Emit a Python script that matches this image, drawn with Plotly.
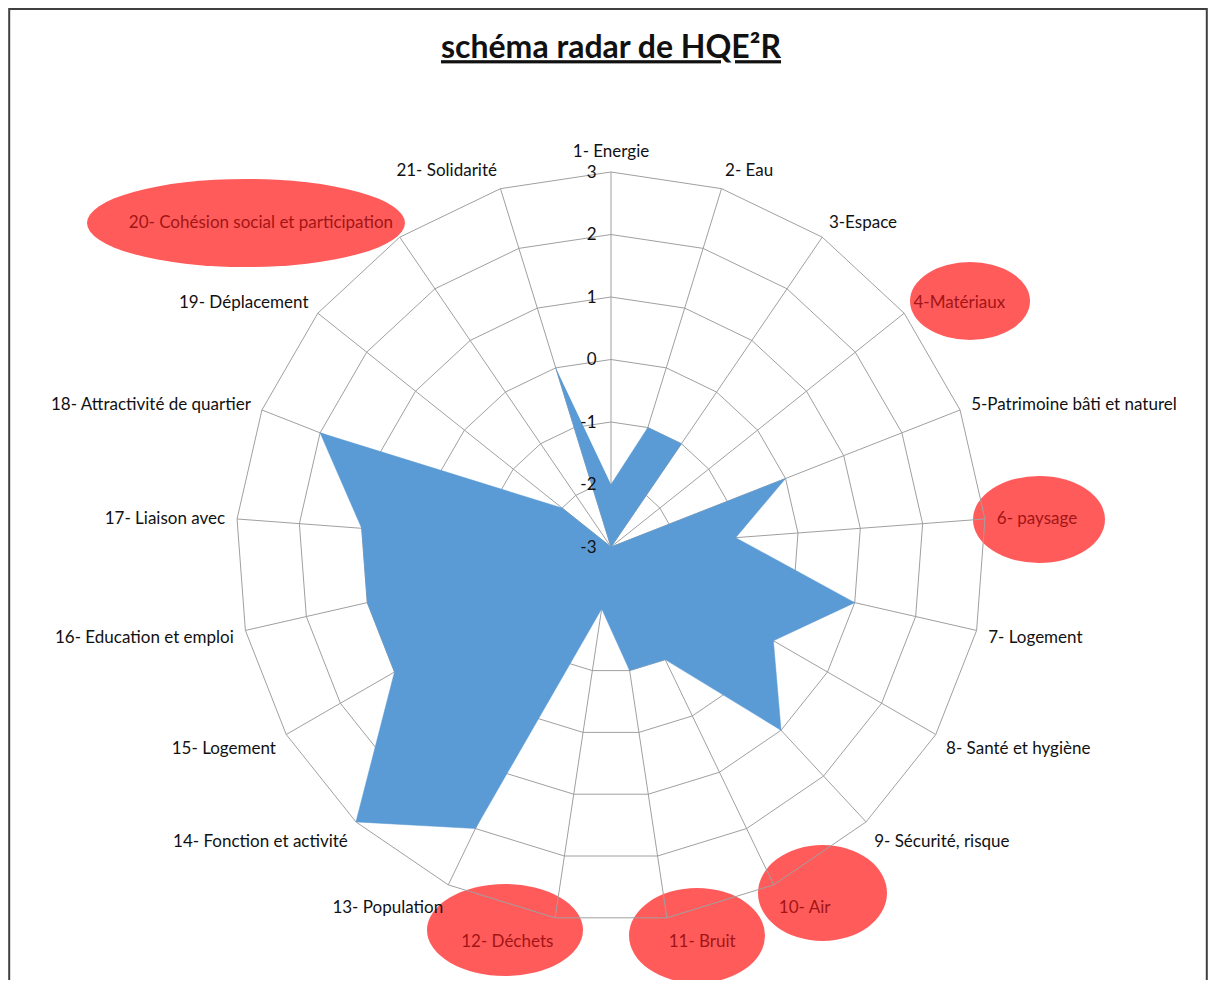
import plotly.graph_objects as go

categories = [
    "1- Energie", "2- Eau", "3-Espace", "4-Matériaux", "5-Patrimoine bâti et naturel",
    "6- paysage", "7- Logement", "8- Santé et hygiène", "9- Sécurité, risque", "10- Air",
    "11- Bruit", "12- Déchets", "13- Population", "14- Fonction et activité", "15- Logement",
    "16- Education et emploi", "17- Liaison avec", "18- Attractivité de quartier",
    "19- Déplacement", "20- Cohésion social et participation", "21- Solidarité",
]
values = [-2, -1, -1, -3, 0, -1, 1, 0, 1, -1, -1, -2, 2, 3, 1, 1, 1, 2, -2, -3, 0]
radial_ticks = [-3, -2, -1, 0, 1, 2, 3]
radial_ticktext = ["-3", "-2", "-1", "0", "1", "2", "3"]
highlighted = ["4-Matériaux", "6- paysage", "10- Air", "11- Bruit", "12- Déchets",
               "20- Cohésion social et participation"]

# page is rendered with an 8px body margin
OFF = 8
W, H = 1200, 972
FONT = "Lato"
HL_TEXT = "#A31515"
GRID = "#A0A0A0"

ticktext = [f"<span style='color:{HL_TEXT}'>{c}</span>" if c in highlighted else c
            for c in categories]

fig = go.Figure()
fig.add_trace(go.Scatterpolar(
    r=values, theta=categories, mode="lines", fill="toself",
    fillcolor="#5B9BD5", line=dict(color="#5B9BD5", width=0.5),
    hoverinfo="r+theta", showlegend=False,
))

cx, cy, R = 611 - OFF, 547 - OFF, 375


def px_x(x):
    return (x - OFF) / W


def px_y(y):
    return 1 - (y - OFF) / H


# highlight ellipses (page pixel boxes)
ellipses = [
    (87, 179, 405, 267),
    (910, 262, 1030, 340),
    (973, 476, 1105, 563),
    (758, 845, 887, 941),
    (629, 888, 765, 983),
    (427, 884, 583, 976),
]
shapes = []
for x0, y0, x1, y1 in ellipses:
    shapes.append(dict(type="circle", xref="paper", yref="paper",
                       x0=px_x(x0), x1=px_x(x1), y0=px_y(y1), y1=px_y(y0),
                       fillcolor="#FF5B5B", line=dict(width=0), layer="below"))
# outer frame
shapes.append(dict(type="rect", xref="paper", yref="paper",
                   x0=0.001, x1=0.999, y0=-0.05, y1=0.999,
                   line=dict(color="#404040", width=2), fillcolor="rgba(0,0,0,0)",
                   layer="above"))

fig.update_layout(
    width=W, height=H,
    margin=dict(l=0, r=0, t=0, b=0),
    paper_bgcolor="white",
    font=dict(family=FONT, size=17, color="#222222"),
    title=dict(text="<u><b>schéma radar de HQE²R</b></u>",
               x=px_x(611), xanchor="center", xref="paper",
               y=1 - (47 - OFF) / H, yanchor="middle", yref="container",
               font=dict(family=FONT, size=32, color="#111111")),
    shapes=shapes,
    polar=dict(
        domain=dict(x=[(cx - R) / W, (cx + R) / W],
                    y=[(H - cy - R) / H, (H - cy + R) / H]),
        bgcolor="rgba(0,0,0,0)",
        gridshape="linear",
        angularaxis=dict(
            rotation=90, direction="clockwise",
            tickvals=categories, ticktext=ticktext,
            ticks="outside", ticklen=8, tickcolor="rgba(0,0,0,0)",
            showline=True, linecolor=GRID, linewidth=1,
            gridcolor=GRID, gridwidth=1,
            tickfont=dict(family=FONT, size=17, color="#111111"),
        ),
        radialaxis=dict(
            range=[-3, 3], tickvals=radial_ticks, ticktext=radial_ticktext,
            angle=90, tickangle=90, side="counterclockwise",
            showline=False, ticks="outside", ticklen=8, tickcolor="rgba(0,0,0,0)",
            gridcolor=GRID, gridwidth=1,
            tickfont=dict(family=FONT, size=17, color="#111111"),
        ),
    ),
)

fig.write_html("out.html")
